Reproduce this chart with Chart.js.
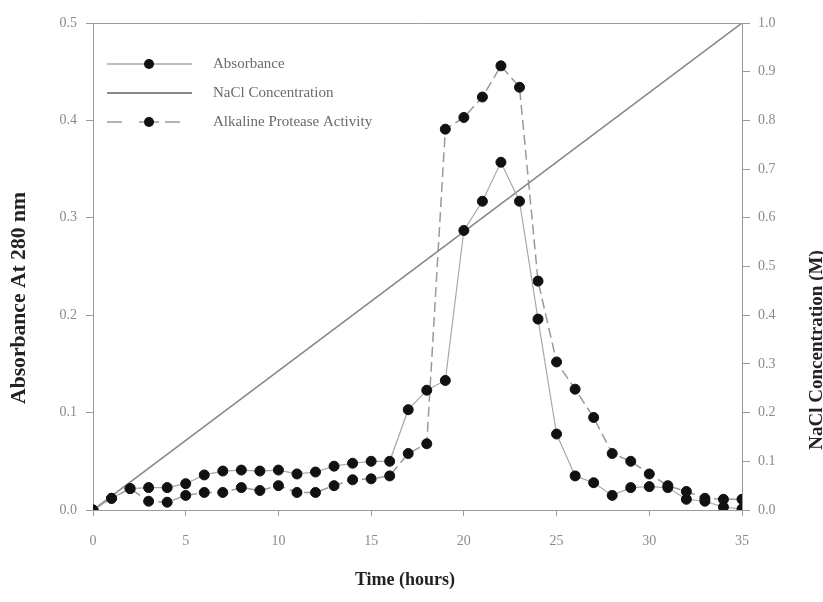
<!DOCTYPE html>
<html>
<head>
<meta charset="utf-8">
<script src="https://cdn.jsdelivr.net/npm/chart.js@4.4.1/dist/chart.umd.min.js"></script>
<style>
  html, body { margin: 0; padding: 0; background: #fff; overflow: hidden; }
  #wrap { width: 823px; height: 602px; }
</style>
</head>
<body>
<div id="wrap"><canvas id="chart" width="823" height="602"></canvas></div>
<script>
// data
const hours = [0, 1, 2, 3, 4, 5, 6, 7, 8, 9, 10, 11, 12, 13, 14, 15, 16, 17,
  18, 19, 20, 21, 22, 23, 24, 25, 26, 27, 28, 29, 30, 31, 32, 33, 34, 35];
const absorbance = [0.000, 0.012, 0.022, 0.023, 0.023, 0.027, 0.036, 0.040, 0.041,
  0.040, 0.041, 0.037, 0.039, 0.045, 0.048, 0.050, 0.050, 0.103, 0.123, 0.133,
  0.287, 0.317, 0.357, 0.317, 0.196, 0.078, 0.035, 0.028, 0.015, 0.023, 0.024,
  0.023, 0.011, 0.009, 0.003, 0.001];
const protease = [0.000, 0.012, 0.022, 0.009, 0.008, 0.015, 0.018, 0.018, 0.023,
  0.020, 0.025, 0.018, 0.018, 0.025, 0.031, 0.032, 0.035, 0.058, 0.068, 0.391,
  0.403, 0.424, 0.456, 0.434, 0.235, 0.152, 0.124, 0.095, 0.058, 0.050, 0.037,
  0.025, 0.019, 0.012, 0.011, 0.011];
const naclHours = [0, 35];
const nacl = [0.0, 1.0];

const xTicks = [0, 5, 10, 15, 20, 25, 30, 35];
const leftTicks = [0.0, 0.1, 0.2, 0.3, 0.4, 0.5];
const rightTicks = [0.0, 0.1, 0.2, 0.3, 0.4, 0.5, 0.6, 0.7, 0.8, 0.9, 1.0];

const legendLabels = ["Absorbance", "NaCl Concentration", "Alkaline Protease Activity"];

/////////////////////////////////////////////////////////////////////////////////////
const serif = "'Liberation Serif', 'DejaVu Serif', serif";
const axisGrey = "#9a9a9a";
const tickFont = { family: serif, size: 14 };
const toXY = (xs, ys) => xs.map((x, i) => ({ x: x, y: ys[i] }));

// rotated, slightly stretched axis title
const sideTitle = (c, text, x, y, size, stretch) => {
  c.save();
  c.translate(x, y);
  c.rotate(-Math.PI / 2);
  c.scale(stretch, 1);
  c.font = "bold " + size + "px " + serif;
  c.fillText(text, 0, 0);
  c.restore();
};

// titles, top border and legend drawn on the canvas
const extras = {
  id: "extras",
  afterDraw(chart) {
    const c = chart.ctx;
    const a = chart.chartArea;
    c.save();

    // top frame line
    c.strokeStyle = axisGrey;
    c.lineWidth = 1;
    c.beginPath();
    c.moveTo(a.left, a.top + 0.5);
    c.lineTo(a.right, a.top + 0.5);
    c.stroke();

    // axis titles
    c.fillStyle = "#222";
    c.font = "bold 18px " + serif;
    c.textAlign = "center";
    c.textBaseline = "middle";
    c.fillText("Time (hours)", 405, 580);

    sideTitle(c, "Absorbance At 280 nm", 20, 298, 20, 1.08);
    sideTitle(c, "NaCl Concentration (M)", 817, 350, 19, 1.0);

    // legend
    const rows = [64, 93, 122];
    const x0 = 107, x1 = 192, mx = 149;
    const ds = chart.data.datasets;

    // absorbance
    c.strokeStyle = ds[0].borderColor;
    c.lineWidth = 1.5;
    c.beginPath(); c.moveTo(x0, rows[0]); c.lineTo(x1, rows[0]); c.stroke();
    // nacl
    c.strokeStyle = ds[1].borderColor;
    c.lineWidth = 2;
    c.beginPath(); c.moveTo(x0, rows[1]); c.lineTo(x1, rows[1]); c.stroke();
    // protease (dashed)
    c.strokeStyle = ds[2].borderColor;
    c.lineWidth = 1.5;
    [[x0, 122], [139, 159], [165, 180]].forEach(seg => {
      c.beginPath(); c.moveTo(seg[0], rows[2]); c.lineTo(seg[1], rows[2]); c.stroke();
    });

    c.fillStyle = "#111";
    [rows[0], rows[2]].forEach(y => {
      c.beginPath(); c.arc(mx, y, 5, 0, Math.PI * 2); c.fill();
    });

    c.fillStyle = "#6a6a6a";
    c.font = "15px " + serif;
    c.textAlign = "left";
    legendLabels.forEach((t, i) => c.fillText(t, 213, rows[i]));

    c.restore();
  }
};

/////////////////////////////////////////////////////////////////////////////////////
let ctx = document.getElementById("chart").getContext("2d");
new Chart(ctx, {
  type: "line",
  data: {
    datasets: [
      {
        label: legendLabels[0],
        data: toXY(hours, absorbance),
        yAxisID: "y",
        borderColor: "#a8a8a8",
        borderWidth: 1.2,
        pointRadius: 5,
        pointBackgroundColor: "#111",
        pointBorderColor: "#111",
        pointBorderWidth: 1,
        tension: 0
      },
      {
        label: legendLabels[1],
        data: toXY(naclHours, nacl),
        yAxisID: "y2",
        borderColor: "#8a8a8a",
        borderWidth: 1.6,
        pointRadius: 0,
        tension: 0
      },
      {
        label: legendLabels[2],
        data: toXY(hours, protease),
        yAxisID: "y",
        borderColor: "#9a9a9a",
        borderWidth: 1.5,
        borderDash: [10, 5],
        pointRadius: 5,
        pointBackgroundColor: "#111",
        pointBorderColor: "#111",
        pointBorderWidth: 1,
        tension: 0
      }
    ]
  },
  options: {
    responsive: false,
    animation: false,
    devicePixelRatio: 1,
    layout: { padding: { top: 23, left: 0, right: 0, bottom: 0 } },
    plugins: {
      legend: { display: false },
      tooltip: { enabled: false }
    },
    scales: {
      x: {
        type: "linear",
        min: 0,
        max: 35,
        afterFit: (s) => { s.height = 92; },
        afterBuildTicks: (s) => { s.ticks = xTicks.map(v => ({ value: v })); },
        border: { color: axisGrey },
        grid: { drawOnChartArea: false, tickLength: 6, color: axisGrey },
        ticks: { font: tickFont, color: "#8a8a8a", padding: 17, callback: (v) => String(v) }
      },
      y: {
        position: "left",
        min: 0,
        max: 0.5,
        afterFit: (s) => { s.width = 93; },
        afterBuildTicks: (s) => { s.ticks = leftTicks.map(v => ({ value: v })); },
        border: { color: axisGrey },
        grid: { drawOnChartArea: false, tickLength: 7, color: axisGrey },
        ticks: { font: tickFont, color: "#8a8a8a", padding: 9, callback: (v) => Number(v).toFixed(1) }
      },
      y2: {
        position: "right",
        min: 0,
        max: 1,
        afterFit: (s) => { s.width = 81; },
        afterBuildTicks: (s) => { s.ticks = rightTicks.map(v => ({ value: v })); },
        border: { color: axisGrey },
        grid: { drawOnChartArea: false, tickLength: 8, color: axisGrey },
        ticks: { font: tickFont, color: "#8a8a8a", padding: 8, callback: (v) => Number(v).toFixed(1) }
      }
    }
  },
  plugins: [extras]
});
</script>
</body>
</html>
